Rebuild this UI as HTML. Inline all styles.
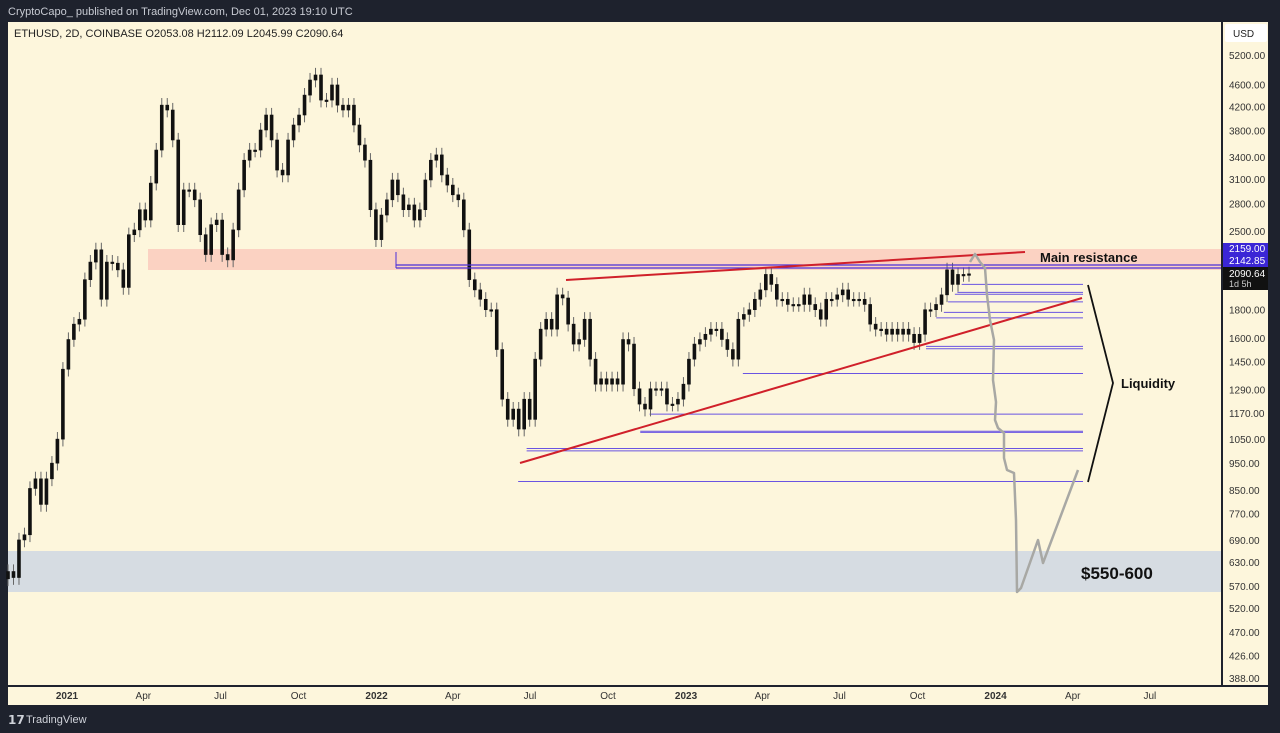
<!DOCTYPE html>
<html><head><meta charset="utf-8"><style>
body{margin:0;background:#1e222d;font-family:"Liberation Sans",sans-serif;}
#wrap{position:relative;width:1280px;height:733px;overflow:hidden;background:#1e222d;}
svg{position:absolute;left:0;top:0;}
</style></head><body>
<div id="wrap">
<svg id="chart" width="1280" height="733">
<text x="8" y="15" fill="#c8cbd3" font-size="11">CryptoCapo_  published on TradingView.com, Dec 01, 2023 19:10 UTC</text>
<rect x="8" y="22" width="1213" height="663" fill="#fdf6dc"/>
<rect x="1223" y="22" width="45" height="663" fill="#fdf6dc"/>
<rect x="8" y="687" width="1260" height="18" fill="#fdf6dc"/>
<rect x="148" y="249" width="1073" height="21" fill="#fbd2c2"/>
<rect x="8" y="551" width="1213" height="41" fill="#d6dce2"/>
<g id="liq"></g>
<g id="candles"></g>
<line x1="396" y1="265" x2="1221" y2="265" stroke="#4b2fd8" stroke-width="1.2"/>
<line x1="396" y1="268" x2="1221" y2="268" stroke="#4b2fd8" stroke-width="1.2"/>
<line x1="396" y1="252" x2="396" y2="268" stroke="#4b2fd8" stroke-width="1"/>
<line x1="566" y1="280" x2="1025" y2="252" stroke="#d0202a" stroke-width="2"/>
<line x1="520" y1="463" x2="1082" y2="298" stroke="#d0202a" stroke-width="2"/>
<polyline points="970,262 975,254 980,262 985,268 987,295 990,320 994,340 993,380 996,402 995,420 998,428 1004,433 1004,458 1007,470 1014,473 1016,520 1017,592 1021,588 1038,540 1043,563 1078,470" fill="none" stroke="#a8a8a4" stroke-width="2.5" stroke-linejoin="round"/>
<polyline points="1088,285 1113,383 1088,482" fill="none" stroke="#111" stroke-width="1.8"/>
<text x="1040" y="262" font-size="13" font-weight="bold" fill="#111">Main resistance</text>
<text x="1121" y="388" font-size="13" font-weight="bold" fill="#111">Liquidity</text>
<text x="1081" y="579" font-size="17" font-weight="bold" fill="#111">$550-600</text>
<text x="14" y="37" font-size="11" fill="#222">ETHUSD, 2D, COINBASE  O2053.08  H2112.09  L2045.99  C2090.64</text>
<rect x="1225" y="24" width="42" height="18" fill="#fff" rx="2"/>
<text x="1233" y="37" font-size="10" fill="#222">USD</text>
<g id="yticks"></g>
<g id="xticks"></g>
<rect x="1223" y="243" width="45" height="12" fill="#3b26d6"/>
<text x="1229" y="252" font-size="10" fill="#fff">2159.00</text>
<rect x="1223" y="255" width="45" height="12" fill="#3b26d6"/>
<text x="1229" y="264" font-size="10" fill="#fff">2142.85</text>
<rect x="1223" y="267" width="45" height="23" fill="#111"/>
<text x="1229" y="277" font-size="10" fill="#fff">2090.64</text>
<text x="1229" y="287" font-size="9" fill="#ccc">1d 5h</text>
<text x="8" y="724" font-size="12" fill="#d0d3da" font-weight="bold">𝟭𝟳</text>
<text x="26" y="723" font-size="11" fill="#d0d3da">TradingView</text>
</svg>
</div>
<script>
const closes=[605,590,690,705,855,890,800,890,950,1050,1405,1590,1695,1730,2040,2195,2310,1880,2195,2185,2125,1975,2460,2510,2730,2615,3050,3500,4220,4135,3650,2565,2965,2965,2845,2460,2265,2565,2615,2265,2215,2510,2965,3355,3500,3500,3805,4050,3650,3220,3155,3650,3885,4050,4400,4685,4785,4310,4310,4590,4220,4135,4220,3885,3575,3355,2730,2410,2670,2845,3090,2905,2730,2785,2615,2730,3090,3355,3430,3155,3025,2905,2845,2510,2040,1955,1880,1800,1800,1525,1240,1140,1190,1095,1240,1140,1465,1660,1730,1660,1915,1890,1695,1560,1590,1730,1465,1320,1350,1320,1350,1320,1590,1560,1295,1215,1190,1295,1295,1295,1215,1215,1240,1320,1465,1560,1590,1625,1660,1660,1590,1525,1465,1730,1765,1800,1880,1955,2085,2000,1880,1880,1840,1840,1840,1915,1840,1800,1730,1880,1880,1915,1955,1880,1880,1880,1840,1695,1660,1660,1625,1660,1625,1660,1625,1570,1625,1800,1800,1840,1915,2125,2000,2085,2085,2090];
const yTickLabels=["5200.00","4600.00","4200.00","3800.00","3400.00","3100.00","2800.00","2500.00","1800.00","1600.00","1450.00","1290.00","1170.00","1050.00","950.00","850.00","770.00","690.00","630.00","570.00","520.00","470.00","426.00","388.00"];
const xTickLabels=["2021","Apr","Jul","Oct","2022","Apr","Jul","Oct","2023","Apr","Jul","Oct","2024","Apr","Jul"];
const xTickDays=[0,90,181,273,365,455,546,638,730,820,911,1003,1095,1186,1277];
const liqLevels=[2000,1935,1920,1860,1780,1740,1545,1530,1380,1165,1085,1080,1010,1000,880];
const liqStartDay=[1055,1050,1047,1039,1034,1025,1013,1013,797,687,676,676,542,542,532];
const NS="http://www.w3.org/2000/svg";
const yOf=p=>55+240.1*Math.log(5200/p);
const xDay=d=>67+d*0.848;
const x0=8,x1=969;
const xIdx=i=>x0+(x1-x0)*i/(closes.length-1);
function mk(tag,attrs,parent){const e=document.createElementNS(NS,tag);for(const k in attrs)e.setAttribute(k,attrs[k]);parent.appendChild(e);return e;}
const cg=document.getElementById('candles');
closes.forEach((c,i)=>{
  const o=i?closes[i-1]:c*0.97;
  const hi=Math.max(o,c)*1.03,lo=Math.min(o,c)*0.97;
  const x=xIdx(i);
  const w=mk('line',{x1:x,x2:x,y1:yOf(hi),y2:yOf(lo),stroke:'#666','stroke-width':1},cg);
  
  
  const top=yOf(Math.max(o,c)),bot=yOf(Math.min(o,c));
  const b=mk('rect',{x:x-1.5,y:top,width:3,height:Math.max(1.5,bot-top),fill:'#111',stroke:'#111','stroke-width':0.6},cg);
  
  
});
const lg=document.getElementById('liq');
liqLevels.forEach((p,i)=>{
  const y=yOf(p),xs=xDay(liqStartDay[i]);
  const l=mk('line',{x1:xs,x2:1083,y1:y,y2:y,stroke:'#6a54e2','stroke-width':1},lg);
  
  
});
const yg=document.getElementById('yticks');
yTickLabels.forEach(t=>{
  const e=mk('text',{x:1229,y:yOf(parseFloat(t))+4,'font-size':10,fill:'#333'},yg);
  e.textContent=t;
  
  
});
const xg=document.getElementById('xticks');
xTickLabels.forEach((t,i)=>{
  const yr=/^\d{4}$/.test(t);
  const e=mk('text',{x:xDay(xTickDays[i]),y:699,'font-size':10,'font-weight':yr?'bold':'normal',fill:'#333','text-anchor':'middle'},xg);
  e.textContent=t;
  
  
});
</script>
</body></html>
